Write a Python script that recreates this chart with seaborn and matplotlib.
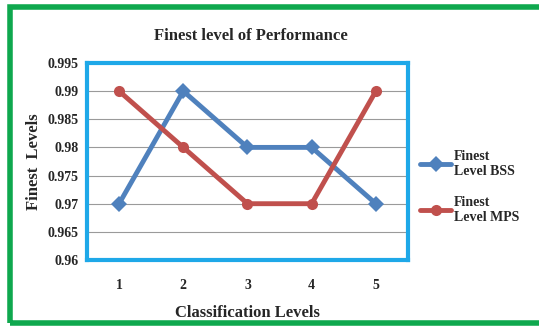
import pandas as pd
import seaborn as sns
import matplotlib.pyplot as plt
from matplotlib.patches import Rectangle

# chart values
levels = [1, 2, 3, 4, 5]
bss = [0.97, 0.99, 0.98, 0.98, 0.97]
mps = [0.99, 0.98, 0.97, 0.97, 0.99]
series_names = ["Finest\nLevel BSS", "Finest\nLevel MPS"]
y_ticks = [0.96, 0.965, 0.97, 0.975, 0.98, 0.985, 0.99, 0.995]

df = pd.DataFrame({
    "Level": levels * 2,
    "Value": bss + mps,
    "Series": [series_names[0]] * 5 + [series_names[1]] * 5,
})

sns.set_style("white")
plt.rcParams["font.family"] = ["Liberation Serif", "DejaVu Serif"]
plt.rcParams["font.weight"] = "bold"

fig = plt.figure(figsize=(5.39, 3.29), dpi=100)
ax = fig.add_axes([0.1614, 0.2097, 0.5955, 0.599])

sns.lineplot(data=df, x="Level", y="Value", hue="Series", style="Series",
             markers=["D", "o"], dashes=False, palette=["#4F81BD", "#C0504D"],
             linewidth=3.5, markersize=8, markeredgewidth=0, ax=ax)

ax.set_xlim(0.5, 5.5)
ax.set_ylim(0.96, 0.995)
ax.set_yticks(y_ticks)
ax.set_yticklabels([f"{t:g}" for t in y_ticks], fontsize=10)
ax.set_xticks(levels)
ax.set_xticklabels([str(l) for l in levels], fontsize=10)
ax.tick_params(axis="y", length=0, pad=6)
ax.tick_params(axis="x", length=0, pad=14)
ax.grid(axis="y", color="#9a9a9a", linewidth=0.8)
ax.set_axisbelow(True)
for s in ax.spines.values():
    s.set_color("#1EA8E8")
    s.set_linewidth(3)

ax.set_xlabel("Classification Levels", fontsize=12, fontweight="bold", labelpad=9)
ax.set_ylabel("Finest  Levels", fontsize=12, fontweight="bold", labelpad=4)
fig.text(0.465, 0.89, "Finest level of Performance", ha="center", va="center",
         fontsize=12, fontweight="bold")

ax.legend(loc="center left", bbox_to_anchor=(1.0, 0.37), frameon=False,
          fontsize=10, handlelength=2.2, handletextpad=0.2, labelspacing=1.3)

# green outer frame
fig.patches.append(Rectangle((10 / 539, 6 / 329), 1.2, 316 / 329, transform=fig.transFigure,
                             fill=False, edgecolor="#0FA84E", linewidth=4))

fig.savefig("out.png", dpi=100)
